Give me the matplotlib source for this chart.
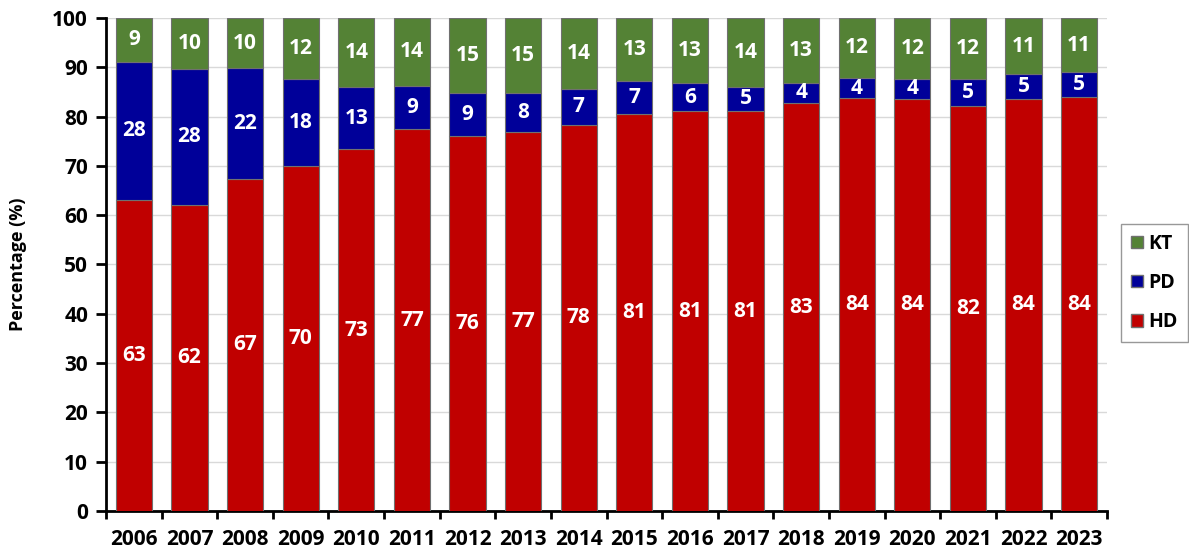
import matplotlib.pyplot as plt
import numpy as np
from matplotlib.patches import Patch

plt.rcParams['font.family'] = ['Open Sans', 'DejaVu Sans']
plt.rcParams['font.weight'] = 'bold'

years = [str(y) for y in range(2006, 2024)]
hd = [63.1, 62.1, 67.4, 70.0, 73.4, 77.4, 76.1, 76.8, 78.3, 80.6,
      81.1, 81.1, 82.7, 83.7, 83.6, 82.2, 83.6, 83.9]
pd_ = [28.0, 27.6, 22.4, 17.6, 12.6, 8.9, 8.6, 7.9, 7.3, 6.6,
       5.7, 5.0, 4.2, 4.2, 4.1, 5.4, 5.0, 5.1]
kt = [8.9, 10.3, 10.2, 12.4, 14.0, 13.7, 15.3, 15.3, 14.4, 12.8,
      13.2, 13.9, 13.1, 12.1, 12.3, 12.4, 11.4, 11.0]

c_hd = '#c00000'
c_pd = '#000099'
c_kt = '#548235'

fig = plt.figure(figsize=(11.89, 5.56), dpi=100)
ax = fig.add_axes([0.0892, 0.081, 0.8418, 0.8866])

x = np.arange(len(years))
w = 0.65
hd = np.array(hd)
pd_ = np.array(pd_)
kt = np.array(kt)

b1 = ax.bar(x, hd, w, color=c_hd, edgecolor='#707070', linewidth=0.8, zorder=3)
b2 = ax.bar(x, pd_, w, bottom=hd, color=c_pd, edgecolor='#707070', linewidth=0.8, zorder=3)
b3 = ax.bar(x, kt, w, bottom=hd + pd_, color=c_kt, edgecolor='#707070', linewidth=0.8, zorder=3)

for bars in (b1, b2, b3):
    for r in bars:
        h = r.get_height()
        ax.text(r.get_x() + r.get_width() / 2, r.get_y() + h / 2, f'{h:.0f}',
                ha='center', va='center', color='white', fontsize=15,
                fontweight='bold', zorder=4)

ax.set_xlim(-0.5, len(years) - 0.5)
ax.set_ylim(0, 100)
ax.set_yticks(range(0, 101, 10))
ax.yaxis.grid(True, color='#d9d9d9', linewidth=1, zorder=0)

ax.set_xticks(x)
ax.set_xticklabels(years)
ax.set_xticks(np.arange(-0.5, len(years), 1), minor=True)
ax.tick_params(axis='x', which='major', length=0, pad=13, labelsize=15)
ax.tick_params(axis='x', which='minor', length=6, width=2, direction='out')
ax.tick_params(axis='y', length=7, width=2, labelsize=15, pad=6)

for s in ('top', 'right'):
    ax.spines[s].set_visible(False)
for s in ('left', 'bottom'):
    ax.spines[s].set_linewidth(2)

ax.set_ylabel('Percentage (%)', fontsize=13, fontweight='bold', labelpad=18)

handles = [Patch(facecolor=c_kt, edgecolor='#707070', label='KT'),
           Patch(facecolor=c_pd, edgecolor='#707070', label='PD'),
           Patch(facecolor=c_hd, edgecolor='#707070', label='HD')]
leg = fig.legend(handles=handles, loc='center', bbox_to_anchor=(0.971, 0.491),
                 frameon=True, fancybox=False, edgecolor='#7f7f7f',
                 prop={'size': 14, 'weight': 'bold'}, handlelength=0.6,
                 handleheight=0.6, handletextpad=0.3, labelspacing=1.0,
                 borderpad=0.5, borderaxespad=0)
leg.get_frame().set_linewidth(1)

fig.savefig('out.png', dpi=100)
